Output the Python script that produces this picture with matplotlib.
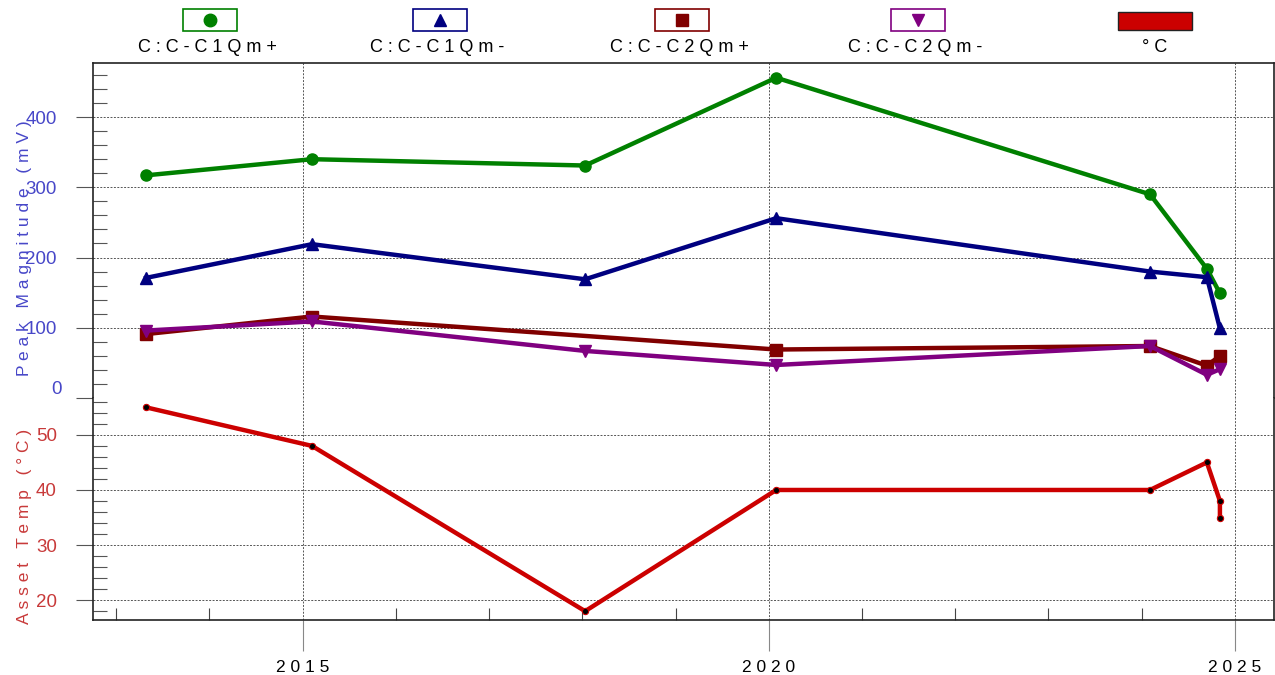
import matplotlib
matplotlib.use("Agg")
import matplotlib.pyplot as plt
from matplotlib.patches import Rectangle
from matplotlib.lines import Line2D
from matplotlib.ticker import MultipleLocator, FuncFormatter

plt.rcParams["font.family"] = ["Liberation Sans", "DejaVu Sans"]

# --- данные (десятичные годы) ---
x_c1p = [2013.32, 2015.10, 2018.03, 2020.08, 2024.09, 2024.70, 2024.84]
c1_plus = [317, 340, 331, 456, 290, 184, 149]
x_c1m = [2013.32, 2015.10, 2018.03, 2020.08, 2024.09, 2024.70, 2024.84]
c1_minus = [171, 219, 169, 256, 180, 172, 99]
x_c2p = [2013.32, 2015.10, 2020.08, 2024.09, 2024.70, 2024.84]
c2_plus = [91, 116, 69, 74, 46, 60]
x_c2m = [2013.32, 2015.10, 2018.03, 2020.08, 2024.09, 2024.70, 2024.84]
c2_minus = [96, 109, 67, 47, 74, 33, 41]
x_temp = [2013.32, 2015.10, 2018.03, 2020.08, 2024.09, 2024.70, 2024.84, 2024.84]
temp = [55, 48, 18, 40, 40, 45, 38, 35]

SERIES = [("C:C-C1Qm+", x_c1p, c1_plus, "#008000", "o"),
          ("C:C-C1Qm-", x_c1m, c1_minus, "#000080", "^"),
          ("C:C-C2Qm+", x_c2p, c2_plus, "#800000", "s"),
          ("C:C-C2Qm-", x_c2m, c2_minus, "#800080", "v")]
TEMP_LABEL = "°C"
BLUE_TXT, RED_TXT = "#4747c8", "#c83a3a"
GRID = dict(color="#555555", linestyle=(0, (2, 1.5)), linewidth=0.7)
FS = 12.5


def spaced(s):
    return " ".join(s)


fig = plt.figure(figsize=(12.75, 6.75), dpi=100)
ax1 = fig.add_axes([0.0729, 0.4104, 0.9263, 0.4963])
ax2 = fig.add_axes([0.0729, 0.0815, 0.9263, 0.3289], sharex=ax1)

for lab, xs, ys, col, mk in SERIES:
    ax1.plot(xs, ys, color=col, lw=3.2, marker=mk, ms=8, zorder=3)
ax2.plot(x_temp, temp, color="#cc0000", lw=3.2, marker="o", ms=4.5,
         mfc="black", mec="#cc0000", mew=0.8, zorder=3)

ax1.set_xlim(2012.75, 2025.42)
ax1.set_ylim(0, 477)
ax2.set_ylim(16.4, 56.7)

for ax in (ax1, ax2):
    ax.xaxis.set_major_locator(MultipleLocator(5))
    ax.xaxis.set_minor_locator(MultipleLocator(1))
    ax.grid(True, which="major", **GRID)
    for sp in ax.spines.values():
        sp.set_color("#222222")
        sp.set_linewidth(1.2)
    ax.tick_params(axis="y", which="major", direction="out", length=12, width=0.8,
                   color="#555555", pad=14, labelsize=13.5)
    ax.tick_params(axis="y", which="minor", direction="in", length=10, width=0.8,
                   color="#555555")

ax1.spines["bottom"].set_visible(False)
ax2.spines["top"].set_visible(False)
ax1.tick_params(axis="x", which="both", length=0, labelbottom=False)
ax2.tick_params(axis="x", which="major", direction="out", length=22, width=0.8,
                color="#888888", pad=7, labelsize=FS)
ax2.tick_params(axis="x", which="minor", direction="in", length=9, width=0.8,
                color="#444444")
ax2.xaxis.set_major_formatter(FuncFormatter(lambda v, p: spaced(f"{v:.0f}")))

ax1.yaxis.set_major_locator(MultipleLocator(100))
ax1.yaxis.set_minor_locator(MultipleLocator(20))
ax1.yaxis.set_major_formatter(FuncFormatter(lambda v, p: "" if v == 0 else f"{v:.0f}"))
ax1.tick_params(axis="y", labelcolor=BLUE_TXT)
ax1.text(-0.0264, 0.02, "0", transform=ax1.get_yaxis_transform(), ha="right", va="bottom",
         fontsize=13.5, color=BLUE_TXT)
ax2.yaxis.set_major_locator(MultipleLocator(10))
ax2.yaxis.set_minor_locator(MultipleLocator(2))
ax2.tick_params(axis="y", labelcolor=RED_TXT)

ax1.set_ylabel(spaced("Peak Magnitude (mV)"), color=BLUE_TXT, fontsize=FS)
ax1.yaxis.set_label_coords(-0.052, 0.448)
ax2.set_ylabel(spaced("Asset Temp (°C)"), color=RED_TXT, fontsize=FS)
ax2.yaxis.set_label_coords(-0.052, 0.42)

# --- легенда сверху ---
centers = [0.1647, 0.3451, 0.5349, 0.7200]
for (lab, xs, ys, col, mk), cx in zip(SERIES, centers):
    fig.add_artist(Rectangle((cx - 0.0212, 1 - 31 / 675), 0.0424, 22 / 675,
                             transform=fig.transFigure, fill=False, ec=col, lw=1.2))
    fig.add_artist(Line2D([cx], [1 - 20 / 675], transform=fig.transFigure, marker=mk,
                          color=col, ms=9, ls="none"))
    fig.text(cx - 0.002, 1 - 48 / 675, spaced(lab), ha="center", va="center", fontsize=13)
fig.add_artist(Rectangle((0.9059 - 0.029, 1 - 30 / 675), 0.058, 18 / 675,
                         transform=fig.transFigure, fc="#cc0000", ec="#222222", lw=1))
fig.text(0.9059, 1 - 48 / 675, spaced(TEMP_LABEL), ha="center", va="center", fontsize=13)

fig.savefig("out.png", dpi=100)
